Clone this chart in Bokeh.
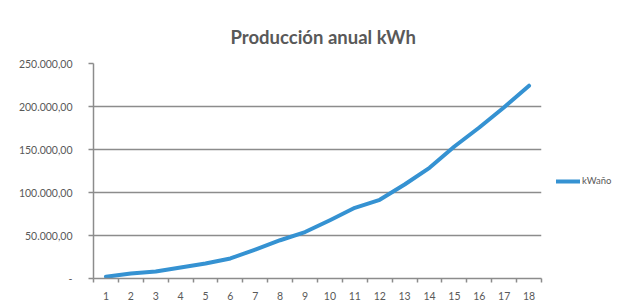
from bokeh.plotting import figure
from bokeh.models import Range1d, FixedTicker, Legend, LegendItem
from bokeh.embed import file_html
from bokeh.resources import INLINE

years = list(range(1, 19))
kwh = [2000, 5800, 8100, 12800, 17400, 23300, 33700, 44500, 54000,
       67800, 82200, 91500, 109300, 128700, 153500, 175600, 199200, 224200]
y_ticks = [0, 50000, 100000, 150000, 200000, 250000]
y_labels = ["-", "50.000,00", "100.000,00", "150.000,00", "200.000,00", "250.000,00"]
series_name = "kWaño"
title_text = "Producción anual kWh"

GRAY = "#8C8C8C"
TXT = "#595959"

p = figure(frame_width=448, frame_height=215, output_backend="svg",
           toolbar_location=None, x_range=Range1d(0.5, 18.5),
           y_range=Range1d(0, 250000),
           min_border_left=93, min_border_right=71, min_border_top=63,
           min_border_bottom=24)

p.title.text = title_text
p.title.align = "left"
p.title.offset = 137
p.title.text_font = "Lato"
p.title.text_font_style = "bold"
p.title.text_font_size = "18.5px"
p.title.text_color = TXT
p.title.standoff = 31

p.outline_line_color = None
p.xgrid.grid_line_color = None
p.ygrid.grid_line_color = GRAY
p.ygrid.grid_line_width = 1.5
p.ygrid.ticker = FixedTicker(ticks=y_ticks)

p.yaxis.ticker = FixedTicker(ticks=y_ticks)
p.yaxis.major_label_overrides = {t: l for t, l in zip(y_ticks, y_labels)}
p.yaxis.axis_line_color = GRAY
p.yaxis.axis_line_width = 1.5
p.yaxis.major_tick_line_color = GRAY
p.yaxis.major_tick_line_width = 1.5
p.yaxis.major_tick_out = 5
p.yaxis.major_tick_in = 0
p.yaxis.minor_tick_line_color = None
p.yaxis.major_label_standoff = 16
p.yaxis.major_label_text_font = "Lato"
p.yaxis.major_label_text_font_size = "10.5px"
p.yaxis.major_label_text_color = TXT

p.xaxis.ticker = FixedTicker(ticks=years, minor_ticks=[y - 0.5 for y in years] + [18.5])
p.xaxis.axis_line_color = GRAY
p.xaxis.axis_line_width = 1.5
p.xaxis.major_tick_line_color = None
p.xaxis.major_tick_out = 0
p.xaxis.major_tick_in = 0
p.xaxis.minor_tick_line_color = GRAY
p.xaxis.minor_tick_line_width = 1.5
p.xaxis.minor_tick_out = 4
p.xaxis.minor_tick_in = 0
p.xaxis.major_label_standoff = 9
p.xaxis.major_label_text_font = "Lato"
p.xaxis.major_label_text_font_size = "10.5px"
p.xaxis.major_label_text_color = TXT

r = p.line(years, kwh, line_color="#3592D2", line_width=4, line_join="round",
           line_cap="round")

legend = Legend(items=[LegendItem(label=series_name, renderers=[r])],
                location=(15, 92), padding=0, margin=0, border_line_color=None,
                background_fill_alpha=0, glyph_width=24, glyph_height=10,
                label_standoff=2, label_text_font="Lato",
                label_text_font_size="9.5px", label_text_color=TXT)
p.add_layout(legend, "right")

open("out.html", "w").write(file_html(p, INLINE))
